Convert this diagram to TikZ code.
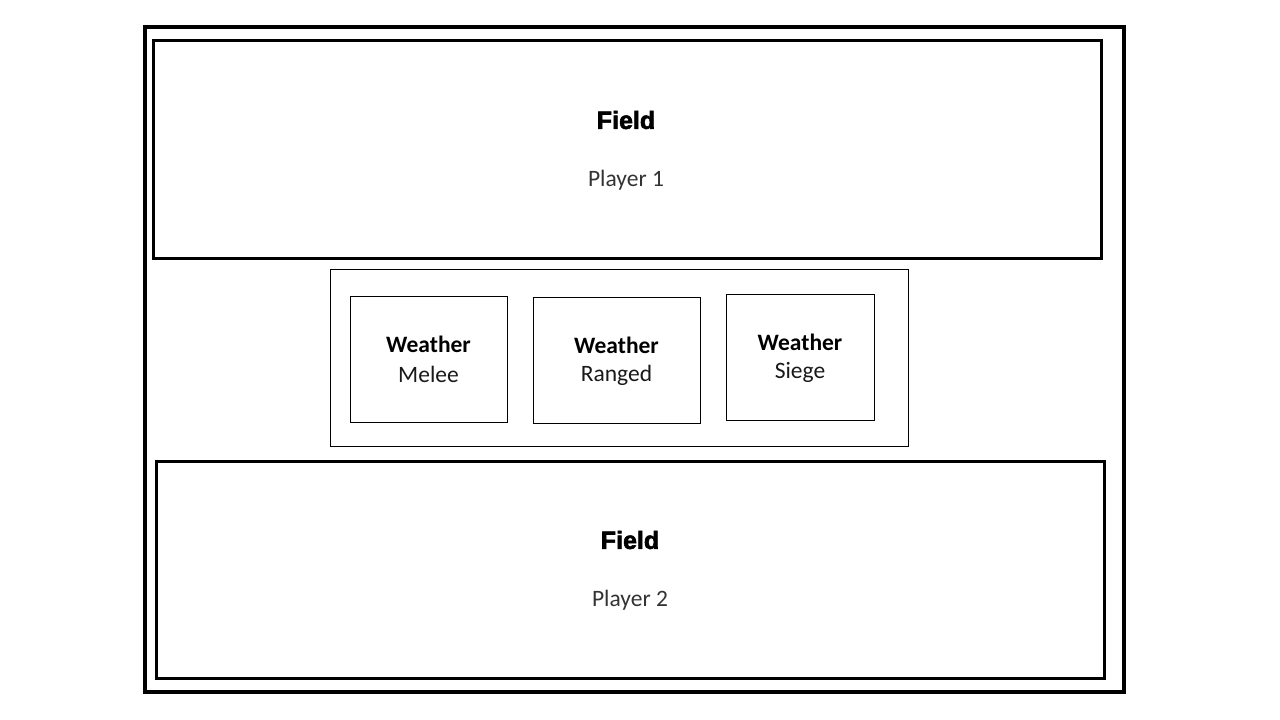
\documentclass[tikz,border=0pt]{standalone}
\usepackage{fontspec}
\setmainfont{Carlito}
\newfontfamily\heavyfont[FakeBold=2.2]{Liberation Sans Bold}
\begin{document}
\begin{tikzpicture}[x=1pt,y=-1pt,
  boxthick/.style={draw=black,line width=3pt,fill=none},
  boxouter/.style={draw=black,line width=4pt,fill=none},
  boxthin/.style={draw=black,line width=1pt,fill=none},
  fieldtitle/.style={font=\heavyfont\fontsize{25}{28}\selectfont,inner sep=0pt},
  fieldsub/.style={font=\fontsize{23.5}{26}\selectfont,text=black!80,inner sep=0pt},
  wtitle/.style={font=\bfseries\fontsize{23.5}{26}\selectfont,inner sep=0pt},
  wsub/.style={font=\fontsize{23.5}{26}\selectfont,text=black!90,inner sep=0pt}]
\useasboundingbox (0,0) rectangle (1280,720);
\fill[white] (0,0) rectangle (1280,720);
\draw[boxouter] (145,27) rectangle (1124,692);
\node[boxthick,minimum width=948pt,minimum height=218pt,inner sep=0pt] (field1) at (627,149.5) {};
\node[boxthick,minimum width=948pt,minimum height=217pt,inner sep=0pt] (field2) at (630,569.5) {};
\node[boxthin,minimum width=578pt,minimum height=177pt,inner sep=0pt] (weather) at (619,357.5) {};
\node[boxthin,minimum width=157pt,minimum height=126pt,inner sep=0pt] (melee) at (428.5,359) {};
\node[boxthin,minimum width=167pt,minimum height=126pt,inner sep=0pt] (ranged) at (616.5,360) {};
\node[boxthin,minimum width=148pt,minimum height=126pt,inner sep=0pt] (siege) at (800,357) {};
\node[fieldtitle] (f1t) at (626,120) {Field};
\node[fieldsub] (f1s) at (626,180) {Player 1};
\node[fieldtitle] (f2t) at (630,540) {Field};
\node[fieldsub] (f2s) at (630,600) {Player 2};
\node[wtitle] (mt) at (428.5,344) {Weather};
\node[wsub] (ms) at (428.5,374) {Melee};
\node[wtitle] (rt) at (616.5,345) {Weather};
\node[wsub] (rs) at (616.5,375) {Ranged};
\node[wtitle] (st) at (800,342) {Weather};
\node[wsub] (ss) at (800,372) {Siege};
\end{tikzpicture}
\end{document}
